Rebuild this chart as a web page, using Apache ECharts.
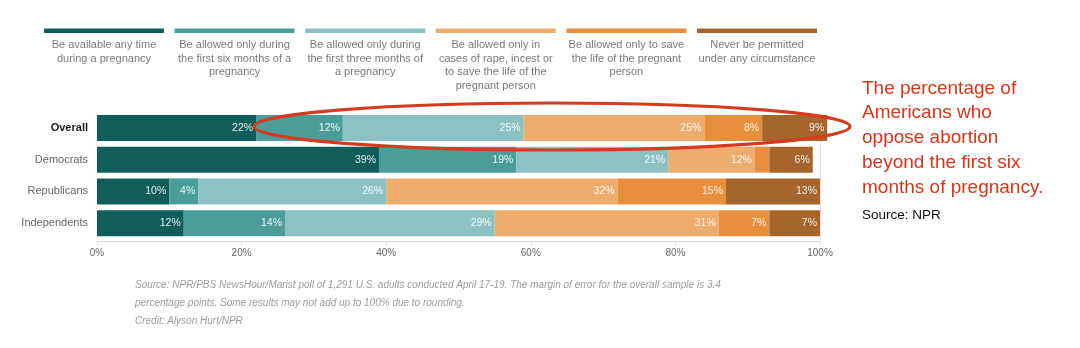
<!DOCTYPE html>
<html>
<head>
<meta charset="utf-8">
<script src="https://cdn.jsdelivr.net/npm/echarts@6/dist/echarts.min.js"></script>
<style>
html,body{margin:0;padding:0;background:#fff;}
#c{width:1080px;height:348px;}
</style>
</head>
<body>
<div id="c"></div>
<script>
const categories = ['Overall', 'Democrats', 'Republicans', 'Independents'];
const seriesNames = [
  'Be available any time\nduring a pregnancy',
  'Be allowed only during\nthe first six months of a\npregnancy',
  'Be allowed only during\nthe first three months of\na pregnancy',
  'Be allowed only in\ncases of rape, incest or\nto save the life of the\npregnant person',
  'Be allowed only to save\nthe life of the pregnant\nperson',
  'Never be permitted\nunder any circumstance'
];
const anyTime = [22, 39, 10, 12];
const sixMonths = [12, 19, 4, 14];
const threeMonths = [25, 21, 26, 29];
const rapeIncestLife = [25, 12, 32, 31];
const lifeOnly = [8, 2, 15, 7];
const never = [9, 6, 13, 7];
const xTicks = [0, 20, 40, 60, 80, 100];
const annotationLines = ['The percentage of', 'Americans who', 'oppose abortion', 'beyond the first six', 'months of pregnancy.'];
const annotationSource = 'Source: NPR';
const footerLines = [
  'Source: NPR/PBS NewsHour/Marist poll of 1,291 U.S. adults conducted April 17-19. The margin of error for the overall sample is 3.4',
  'percentage points. Some results may not add up to 100% due to rounding.',
  'Credit: Alyson Hurt/NPR'
];

const colors = ['#0f5e59', '#4b9d99', '#8cc2c1', '#efad6d', '#e78f3d', '#a6652b'];
const allValues = [anyTime, sixMonths, threeMonths, rapeIncestLife, lifeOnly, never];
const FONT = '"Liberation Sans", Arial, Helvetica, sans-serif';

const chart = echarts.init(document.getElementById('c'), null, {renderer: 'canvas'});

const series = allValues.map((vals, i) => ({
  name: seriesNames[i],
  type: 'bar',
  stack: 'total',
  clip: false,
  barWidth: 26,
  data: vals,
  itemStyle: {color: colors[i]},
  label: {
    show: true,
    position: 'insideRight',
    distance: 3,
    color: 'rgba(255,255,255,0.88)',
    fontSize: 10.5,
    fontFamily: FONT,
    formatter: p => (p.value >= 3 ? p.value + '%' : '')
  },
  z: 2
}));
// reference line at 100%, drawn behind the bars
series.push({
  name: 'ref100',
  type: 'line',
  data: [],
  z: 0,
  silent: true,
  markLine: {
    z: 0,
    silent: true,
    symbol: 'none',
    label: {show: false},
    lineStyle: {color: '#e2e2e2', type: 'solid', width: 1},
    data: [{xAxis: xTicks[xTicks.length - 1]}]
  }
});

const graphics = [];
// legend
seriesNames.forEach((name, i) => {
  const x0 = 44 + i * 130.6;
  graphics.push({
    type: 'rect', shape: {x: x0, y: 28.5, width: 120, height: 4.5},
    style: {fill: colors[i]}
  });
  graphics.push({
    type: 'text', x: x0 + 60, y: 38.5,
    style: {text: name, fill: '#7a7a7a', font: '11px ' + FONT, align: 'center', verticalAlign: 'top', lineHeight: 13.5}
  });
});
// ellipse
graphics.push({
  type: 'ellipse', shape: {cx: 552, cy: 126.5, rx: 298, ry: 23.5},
  style: {fill: 'none', stroke: '#d63a1f', lineWidth: 3.2}, z: 100
});
// annotation
graphics.push({
  type: 'text', x: 862, y: 76,
  style: {text: annotationLines.join('\n'), fill: '#d8351a', font: '19px ' + FONT, lineHeight: 24.8, verticalAlign: 'top', align: 'left'}
});
graphics.push({
  type: 'text', x: 862, y: 208,
  style: {text: annotationSource, fill: '#111', font: '13.5px ' + FONT, verticalAlign: 'top', align: 'left'}
});
// footer
graphics.push({
  type: 'text', x: 135, y: 276,
  style: {text: footerLines.join('\n'), fill: '#9c9c9c', font: 'italic 10px ' + FONT, lineHeight: 18, verticalAlign: 'top', align: 'left'}
});

chart.setOption({
  animation: false,
  backgroundColor: '#fff',
  textStyle: {fontFamily: FONT},
  grid: {left: 97, right: 260, top: 112, height: 127, containLabel: false},
  xAxis: {
    type: 'value', min: xTicks[0], max: xTicks[xTicks.length - 1], interval: 20,
    offset: 2,
    axisLine: {show: true, lineStyle: {color: '#dcdcdc'}},
    axisTick: {show: true, length: 4, lineStyle: {color: '#dcdcdc'}},
    splitLine: {show: false},
    axisLabel: {formatter: '{value}%', color: '#666', fontSize: 10, margin: 7, fontFamily: FONT}
  },
  yAxis: {
    type: 'category', data: categories, inverse: true,
    axisLine: {show: false}, axisTick: {show: false},
    axisLabel: {
      color: '#666', fontSize: 11, margin: 9, fontFamily: FONT,
      formatter: v => (v === 'Overall' ? '{b|' + v + '}' : v),
      rich: {b: {fontWeight: 'bold', color: '#1a1a1a', fontSize: 11, fontFamily: FONT}}
    }
  },
  series: series,
  graphic: graphics
});
</script>
</body>
</html>
